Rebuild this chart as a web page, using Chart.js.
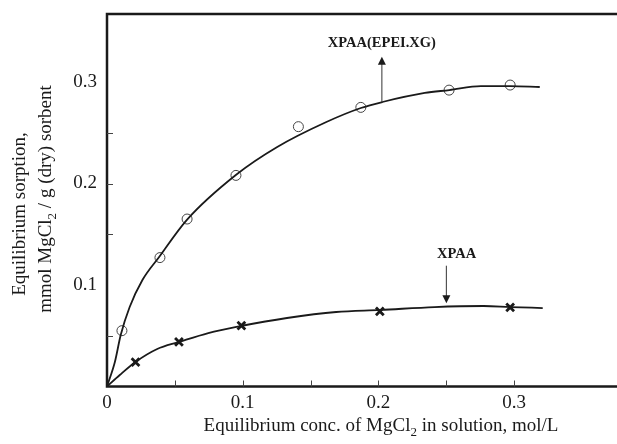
<!DOCTYPE html>
<html>
<head>
<meta charset="utf-8">
<script src="https://cdn.jsdelivr.net/npm/chart.js@4.4.0/dist/chart.umd.min.js"></script>
<style>
    body { margin: 0; background: #fff; }
    #contenedor { width: 617px; height: 444px; }
</style>
</head>
<body>
<div id="contenedor"><canvas id="graficoSorcion"></canvas></div>
<script>
// Puntos medidos: XPAA(EPEI.XG) (círculos) y XPAA (cruces)
const concEpei = [0.011, 0.039, 0.059, 0.095, 0.141, 0.187, 0.252, 0.297];
const sorcEpei = [0.055, 0.127, 0.165, 0.208, 0.256, 0.275, 0.292, 0.297];
const concXpaa = [0.021, 0.053, 0.099, 0.201, 0.297];
const sorcXpaa = [0.024, 0.044, 0.060, 0.074, 0.078];

// Curvas de ajuste trazadas a mano
const curvaEpeiX = [0, 0.0058, 0.0101, 0.0167, 0.0261, 0.0384, 0.0587, 0.0949, 0.1254, 0.1616, 0.1870, 0.2029, 0.2341, 0.2522, 0.2754, 0.2971, 0.3188];
const curvaEpeiY = [0, 0.0241, 0.0507, 0.0783, 0.1049, 0.1276, 0.1640, 0.2084, 0.2360, 0.2606, 0.2744, 0.2803, 0.2892, 0.2921, 0.2960, 0.2960, 0.2951];
const curvaXpaaX = [0, 0.0094, 0.0210, 0.0370, 0.0529, 0.0746, 0.0986, 0.1326, 0.1688, 0.2014, 0.2413, 0.2775, 0.2971, 0.3210];
const curvaXpaaY = [0, 0.0113, 0.0241, 0.0369, 0.0438, 0.0527, 0.0596, 0.0675, 0.0734, 0.0754, 0.0783, 0.0793, 0.0783, 0.0773];

// Ejes
const ticksX = [0, 0.1, 0.2, 0.3];
const ticksY = [0.1, 0.2, 0.3];
const marcasX = [0.05, 0.1, 0.15, 0.2, 0.25, 0.3];
const marcasY = [0.05, 0.15, 0.2, 0.25];

const fuente = '"Liberation Serif", "Times New Roman", serif';
const colorTinta = '#1a1a1a';

function puntos(xs, ys) {
    return xs.map(function(x, i) { return { x: x, y: ys[i] }; });
}

// Texto con subíndices; partes = [[texto, esSubindice], ...], centrado en x
function textoConSub(ctx, partes, x, y, tam) {
    let total = 0;
    partes.forEach(function(p) {
        ctx.font = (p[1] ? Math.round(tam * 0.7) : tam) + 'px ' + fuente;
        total += ctx.measureText(p[0]).width;
    });
    let pos = x - total / 2;
    ctx.textAlign = 'left';
    ctx.textBaseline = 'alphabetic';
    partes.forEach(function(p) {
        ctx.font = (p[1] ? Math.round(tam * 0.7) : tam) + 'px ' + fuente;
        ctx.fillText(p[0], pos, p[1] ? y + tam * 0.28 : y);
        pos += ctx.measureText(p[0]).width;
    });
}

function flecha(ctx, x, y1, y2) {
    // línea de y1 a y2, punta rellena en y2
    let dir = y2 > y1 ? 1 : -1;
    ctx.beginPath();
    ctx.moveTo(x, y1);
    ctx.lineTo(x, y2 - dir * 7);
    ctx.stroke();
    ctx.beginPath();
    ctx.moveTo(x, y2);
    ctx.lineTo(x - 4, y2 - dir * 8);
    ctx.lineTo(x + 4, y2 - dir * 8);
    ctx.closePath();
    ctx.fill();
}

// el área del gráfico llega hasta el borde derecho, sin relleno de las escalas
function sinRelleno(scale) {
    scale.paddingTop = 0;
    scale.paddingBottom = 0;
    scale.paddingLeft = 0;
    scale.paddingRight = 0;
}

const pluginEjes = {
    id: 'ejesYNotas',
    afterDraw: function(chart) {
        let ctx = chart.ctx;
        let area = chart.chartArea;
        let sx = chart.scales.x;
        let sy = chart.scales.y;
        ctx.save();

        // marco: izquierda, arriba y abajo
        ctx.strokeStyle = colorTinta;
        ctx.lineWidth = 2.5;
        ctx.beginPath();
        ctx.moveTo(chart.width, area.top);
        ctx.lineTo(area.left, area.top);
        ctx.lineTo(area.left, area.bottom);
        ctx.lineTo(chart.width, area.bottom);
        ctx.stroke();

        // marcas hacia dentro
        ctx.lineWidth = 1;
        ctx.strokeStyle = '#444';
        marcasX.forEach(function(v) {
            let px = Math.round(sx.getPixelForValue(v)) + 0.5;
            ctx.beginPath();
            ctx.moveTo(px, area.bottom);
            ctx.lineTo(px, area.bottom - 6);
            ctx.stroke();
        });
        marcasY.forEach(function(v) {
            let py = Math.round(sy.getPixelForValue(v)) + 0.5;
            ctx.beginPath();
            ctx.moveTo(area.left, py);
            ctx.lineTo(area.left + 6, py);
            ctx.stroke();
        });

        // títulos de los ejes
        ctx.fillStyle = colorTinta;
        textoConSub(ctx, [['Equilibrium conc. of MgCl', false], ['2', true], [' in solution, mol/L', false]],
            381, 431, 19);
        ctx.save();
        ctx.translate(25, 214);
        ctx.rotate(-Math.PI / 2);
        textoConSub(ctx, [['Equilibrium sorption,', false]], 0, 0, 19);
        ctx.restore();
        ctx.save();
        ctx.translate(51, 199);
        ctx.rotate(-Math.PI / 2);
        textoConSub(ctx, [['mmol MgCl', false], ['2', true], [' / g (dry) sorbent', false]], 0, 0, 19);
        ctx.restore();

        // notas con flechas
        ctx.strokeStyle = '#333';
        ctx.fillStyle = colorTinta;
        ctx.lineWidth = 1;
        let xa = sx.getPixelForValue(0.2025);
        flecha(ctx, xa, sy.getPixelForValue(0.280), sy.getPixelForValue(0.325));
        let xb = sx.getPixelForValue(0.25);
        flecha(ctx, xb, sy.getPixelForValue(0.119), sy.getPixelForValue(0.082));

        ctx.font = 'bold 14.5px ' + fuente;
        ctx.textAlign = 'center';
        ctx.textBaseline = 'middle';
        ctx.fillText('XPAA(EPEI.XG)', xa, sy.getPixelForValue(0.338));
        ctx.fillText('XPAA', sx.getPixelForValue(0.2575), sy.getPixelForValue(0.130));

        ctx.restore();
    }
};

let ctxGrafico = document.getElementById('graficoSorcion').getContext('2d');
let graficoSorcion = new Chart(ctxGrafico, {
    type: 'scatter',
    data: {
        datasets: [
            {
                label: 'XPAA(EPEI.XG) ajuste',
                data: puntos(curvaEpeiX, curvaEpeiY),
                showLine: true,
                borderColor: colorTinta,
                borderWidth: 1.8,
                pointRadius: 0,
                cubicInterpolationMode: 'monotone'
            },
            {
                label: 'XPAA ajuste',
                data: puntos(curvaXpaaX, curvaXpaaY),
                showLine: true,
                borderColor: colorTinta,
                borderWidth: 1.8,
                pointRadius: 0,
                cubicInterpolationMode: 'monotone'
            },
            {
                label: 'XPAA(EPEI.XG)',
                data: puntos(concEpei, sorcEpei),
                pointStyle: 'circle',
                pointRadius: 5,
                borderWidth: 1,
                borderColor: '#444',
                backgroundColor: 'rgba(255,255,255,0)'
            },
            {
                label: 'XPAA',
                data: puntos(concXpaa, sorcXpaa),
                pointStyle: 'crossRot',
                pointRadius: 5.5,
                borderWidth: 2.8,
                borderColor: colorTinta
            }
        ]
    },
    options: {
        responsive: true,
        maintainAspectRatio: false,
        animation: false,
        devicePixelRatio: 1,
        layout: { padding: { top: 14, right: 0, left: 0, bottom: 0 } },
        plugins: {
            legend: { display: false },
            tooltip: { enabled: false }
        },
        scales: {
            x: {
                type: 'linear',
                min: 0,
                max: 0.3696,
                afterBuildTicks: function(scale) {
                    scale.ticks = ticksX.map(function(v) { return { value: v }; });
                },
                afterFit: function(scale) {
                    scale.height = 57.5;
                    sinRelleno(scale);
                },
                grid: { display: false, drawTicks: false },
                border: { display: false },
                ticks: {
                    autoSkip: false,
                    maxRotation: 0,
                    padding: 5,
                    color: colorTinta,
                    font: { family: fuente, size: 19 },
                    callback: function(v) { return v === 0 ? '0' : v.toFixed(1); }
                }
            },
            y: {
                type: 'linear',
                min: 0,
                max: 0.367,
                afterBuildTicks: function(scale) {
                    scale.ticks = ticksY.map(function(v) { return { value: v }; });
                },
                afterFit: function(scale) {
                    scale.width = 107;
                    sinRelleno(scale);
                },
                grid: { display: false, drawTicks: false },
                border: { display: false },
                ticks: {
                    autoSkip: false,
                    padding: 10,
                    color: colorTinta,
                    font: { family: fuente, size: 19 },
                    callback: function(v) { return v.toFixed(1); }
                }
            }
        }
    },
    plugins: [pluginEjes]
});
</script>
</body>
</html>
